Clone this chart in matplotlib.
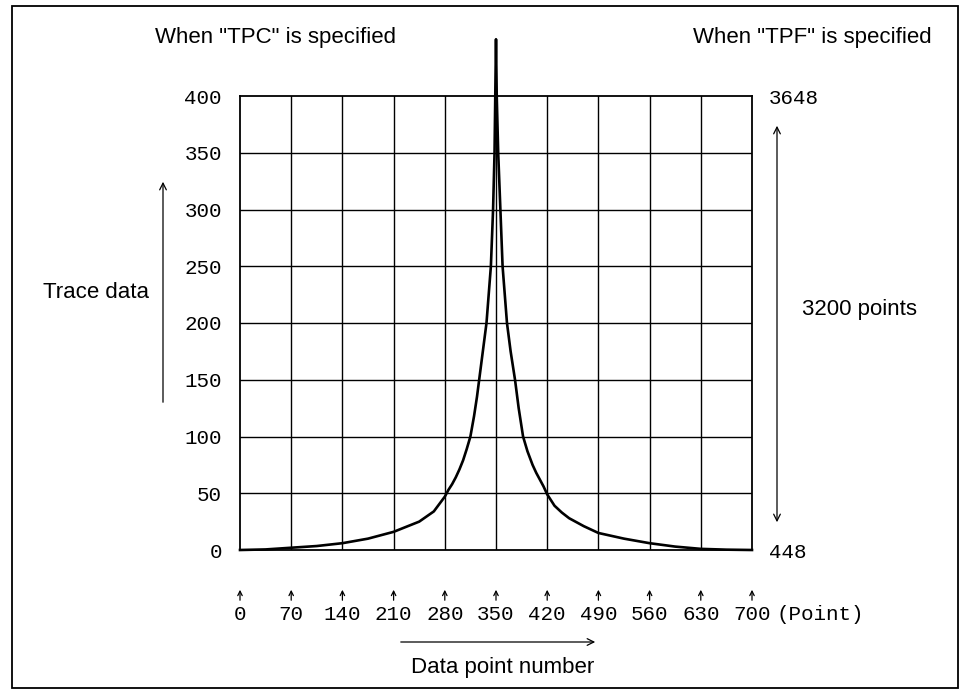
import matplotlib
matplotlib.use('Agg')
import matplotlib.pyplot as plt
import matplotlib.transforms as mtransforms
from matplotlib.patches import Rectangle

# trace data (data point number, trace value)
trace_x = [0, 35, 70, 105, 140, 175, 210, 245, 265, 280, 285, 290, 295, 300,
           305, 310, 315, 320, 324, 327, 332, 337, 340, 343, 346, 348, 349,
           350,
           351, 353, 356, 359, 362, 365, 370, 376, 381, 387, 393, 400, 405,
           410, 415, 420, 425, 430, 440, 450, 470, 490, 525, 560, 595, 630,
           665, 700]
trace_y = [0, 0.5, 2, 3.5, 6, 10, 16, 25, 34, 47, 53, 58, 64, 71,
           79, 89, 100, 118, 135, 150, 175, 200, 225, 250, 300, 350, 400,
           450,
           400, 350, 300, 250, 225, 200, 175, 150, 125, 100, 87, 75, 68,
           62, 56, 49, 44, 39, 33, 28, 21, 15, 10, 6, 3, 1,
           0.3, 0]

x_ticks = [0, 70, 140, 210, 280, 350, 420, 490, 560, 630, 700]
y_ticks = [0, 50, 100, 150, 200, 250, 300, 350, 400]
tpf_ticks = [0, 400]
tpf_labels = ['448', '3648']

W, H = 962, 696
MONO = 'Liberation Mono'
SANS = 'Liberation Sans'


def fx(x):
    return x / W


def fy(y):
    return 1 - y / H


fig = plt.figure(figsize=(W / 100, H / 100), dpi=100)
fig.patch.set_facecolor('white')

ax = fig.add_axes([fx(240), fy(550), 512 / W, 454 / H])
ax.set_xlim(0, 700)
ax.set_ylim(0, 400)

# grid
for xv in x_ticks[1:-1]:
    ax.axvline(xv, color='k', lw=1.0, zorder=1)
for yv in y_ticks[1:-1]:
    ax.axhline(yv, color='k', lw=1.0, zorder=1)
for s in ax.spines.values():
    s.set_linewidth(1.3)

# trace curve (the peak goes above the top of the grid)
ax.plot(trace_x, trace_y, '-k', lw=1.9, clip_on=False, zorder=3,
        solid_joinstyle='round')

# left scale (TPC)
ax.set_yticks(y_ticks)
ax.set_yticklabels([str(v) for v in y_ticks], family=MONO, fontsize=15)
ax.tick_params(axis='y', length=0, pad=13)
ax.set_xticks([])

# right scale (TPF)
ax2 = ax.twinx()
ax2.set_ylim(ax.get_ylim())
ax2.set_yticks(tpf_ticks)
ax2.set_yticklabels(tpf_labels, family=MONO, fontsize=15)
ax2.tick_params(axis='y', length=0, pad=12)
for s in ax2.spines.values():
    s.set_visible(False)

# x labels with small arrows underneath the grid
trans = mtransforms.blended_transform_factory(ax.transData, fig.transFigure)
for xv in x_ticks:
    ax.annotate('', xy=(xv, fy(587)), xytext=(xv, fy(603)),
                xycoords=trans, textcoords=trans,
                arrowprops=dict(arrowstyle='->', lw=0.9, color='k',
                                mutation_scale=8))
    ax.text(xv, fy(615), str(xv), transform=trans, family=MONO,
            fontsize=15, ha='center', va='center')
fig.text(fx(777), fy(615), '(Point)', family=MONO, fontsize=15,
         ha='left', va='center')

# axis descriptions
arrow = dict(arrowstyle='->', lw=0.9, color='k', mutation_scale=12)
fig.text(fx(155), fy(38), 'When "TPC" is specified', family=SANS,
         fontsize=16, ha='left', va='center')
fig.text(fx(932), fy(38), 'When "TPF" is specified', family=SANS,
         fontsize=16, ha='right', va='center')

fig.text(fx(96), fy(293), 'Trace data', family=SANS, fontsize=16,
         ha='center', va='center')
ax.annotate('', xy=(fx(163), fy(179)), xytext=(fx(163), fy(405)),
            xycoords='figure fraction', textcoords='figure fraction',
            arrowprops=arrow)

fig.text(fx(860), fy(310), '3200 points', family=SANS, fontsize=16,
         ha='center', va='center')
ax.annotate('', xy=(fx(777), fy(123)), xytext=(fx(777), fy(525)),
            xycoords='figure fraction', textcoords='figure fraction',
            arrowprops=dict(arrowstyle='<->', lw=0.9, color='k',
                            mutation_scale=12))

fig.text(fx(503), fy(668), 'Data point number', family=SANS, fontsize=16,
         ha='center', va='center')
ax.annotate('', xy=(fx(598), fy(642)), xytext=(fx(398), fy(642)),
            xycoords='figure fraction', textcoords='figure fraction',
            arrowprops=arrow)

# outer frame
fig.patches.append(Rectangle((fx(12), fy(688)), 946 / W, 682 / H,
                             transform=fig.transFigure, fill=False,
                             lw=1.3, ec='k'))

fig.savefig('out.png', dpi=100)
